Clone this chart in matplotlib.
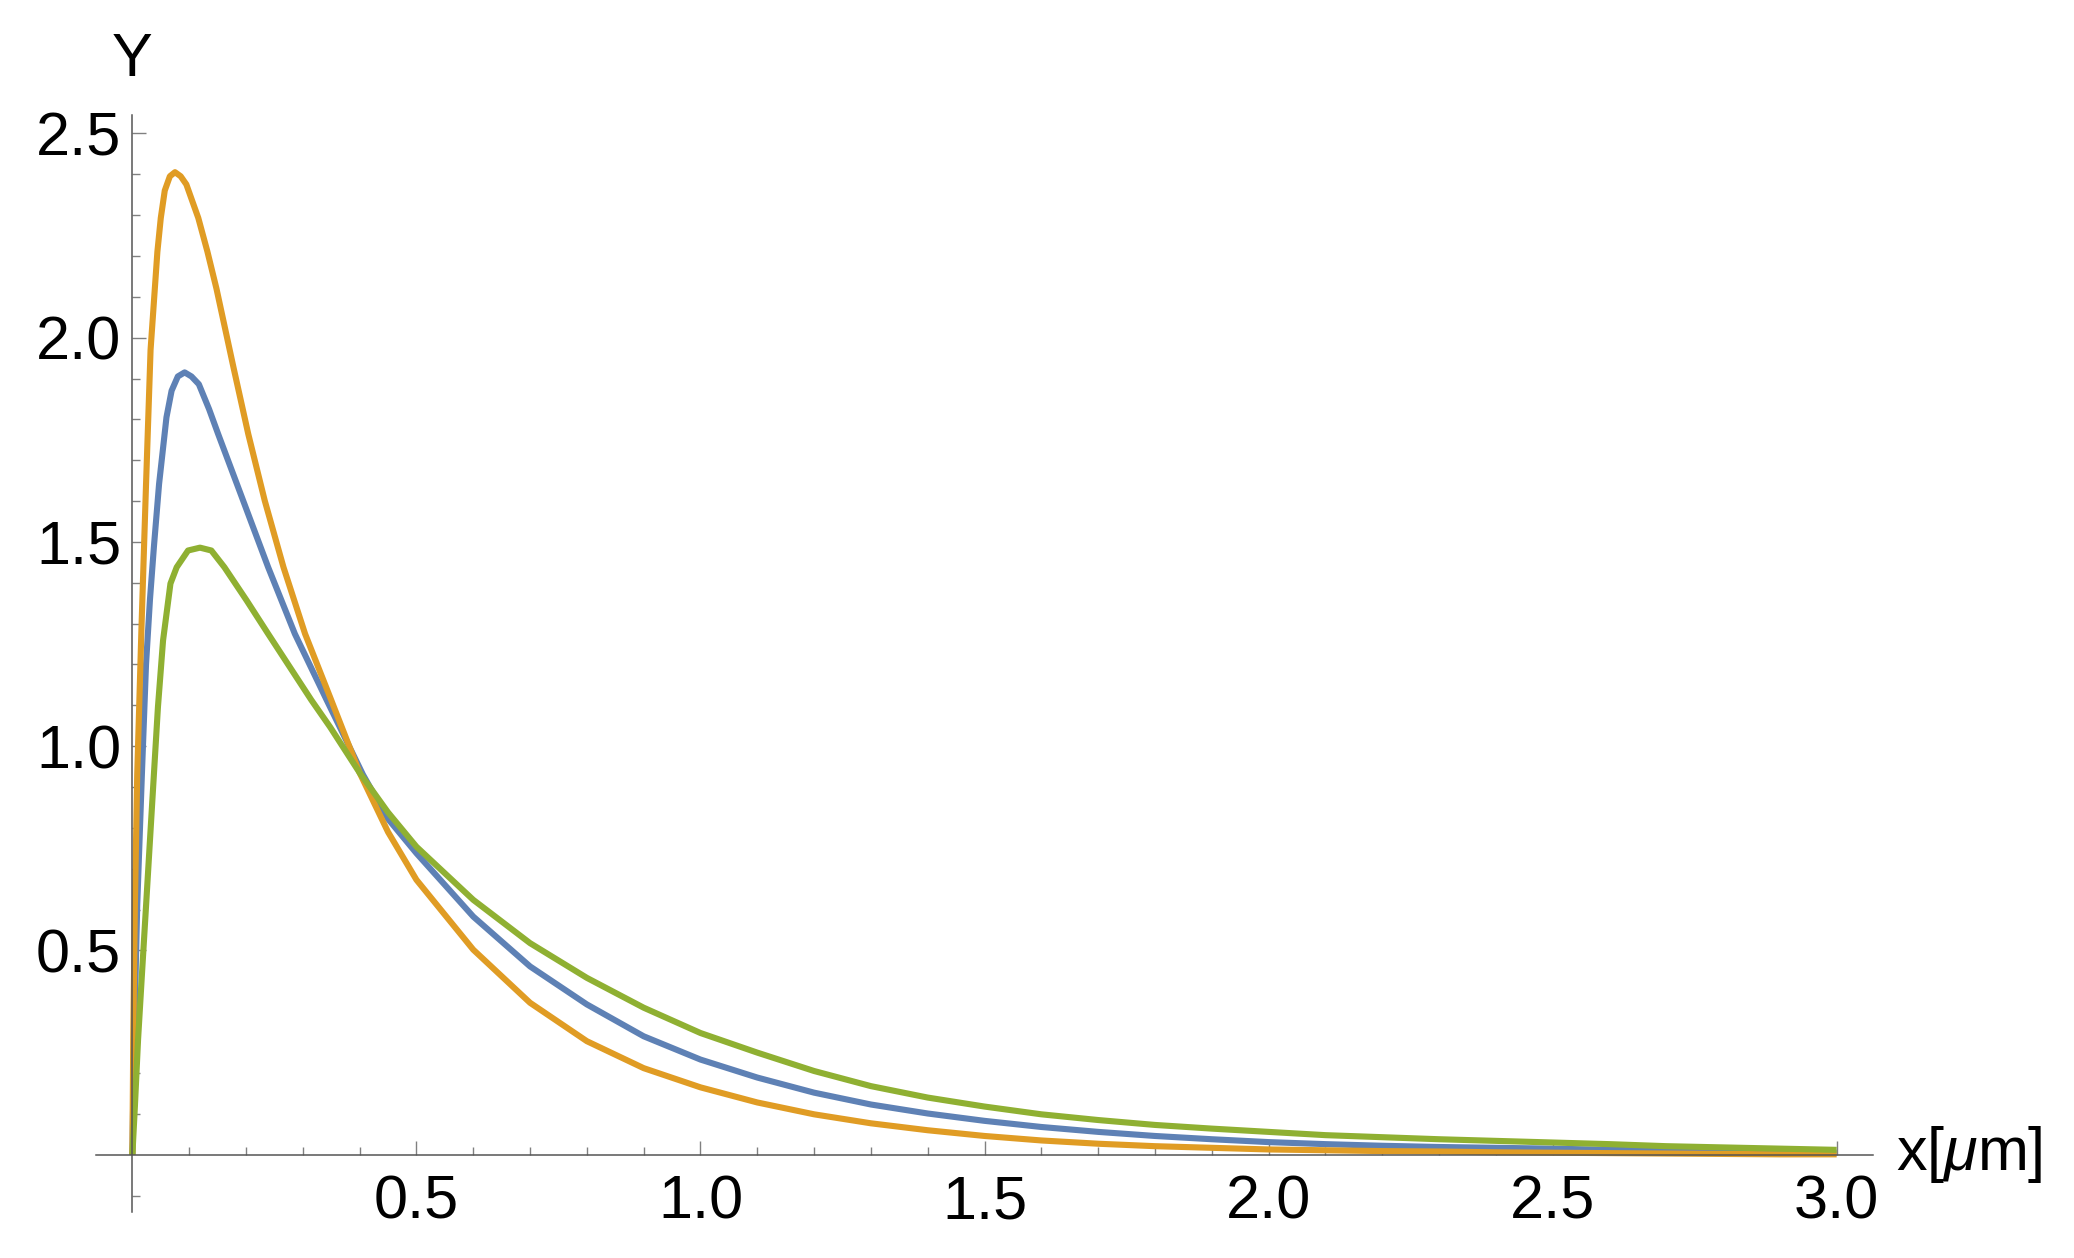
import numpy as np
import matplotlib.pyplot as plt
from matplotlib.ticker import FixedLocator, FormatStrFormatter
from matplotlib.transforms import blended_transform_factory

plt.rcParams['font.family'] = ['Liberation Sans', 'DejaVu Sans']
plt.rcParams['mathtext.fontset'] = 'custom'
plt.rcParams['mathtext.rm'] = 'Liberation Sans'
plt.rcParams['mathtext.it'] = 'Liberation Sans:italic'

# values
tail_x = [1.1, 1.2, 1.3, 1.4, 1.5, 1.6, 1.7, 1.8, 1.9, 2.0,
          2.1, 2.2, 2.3, 2.4, 2.5, 2.6, 2.7, 2.8, 2.9, 3.0]

x_blue = [0, 0.003, 0.0085, 0.0167, 0.024, 0.031, 0.038, 0.047, 0.060, 0.069,
          0.080, 0.092, 0.104, 0.117, 0.135, 0.151, 0.195, 0.239, 0.286, 0.342,
          0.406, 0.45, 0.5, 0.6, 0.7, 0.8, 0.9, 1.0] + tail_x
y_blue = [0, 0.28, 0.61, 0.93, 1.20, 1.36, 1.49, 1.642, 1.805, 1.87,
          1.905, 1.915, 1.905, 1.886, 1.825, 1.764, 1.601, 1.438, 1.275, 1.113,
          0.93, 0.822, 0.738, 0.583, 0.461, 0.368, 0.290, 0.233,
          0.189, 0.152, 0.123, 0.101, 0.083, 0.068, 0.056, 0.046, 0.038, 0.031,
          0.026, 0.022, 0.019, 0.017, 0.015, 0.012, 0.010, 0.008, 0.006, 0.005]

x_orange = [0, 0.0015, 0.0044, 0.0085, 0.016, 0.024, 0.032, 0.044, 0.050, 0.057,
            0.066, 0.075, 0.085, 0.095, 0.116, 0.132, 0.148, 0.178, 0.204, 0.233,
            0.266, 0.304, 0.348, 0.40, 0.45, 0.5, 0.6, 0.7, 0.8, 0.9, 1.0] + tail_x
y_orange = [0, 0.28, 0.61, 0.93, 1.29, 1.64, 1.97, 2.21, 2.293, 2.36,
            2.395, 2.405, 2.395, 2.375, 2.293, 2.211, 2.12, 1.927, 1.764, 1.601,
            1.438, 1.275, 1.12, 0.935, 0.79, 0.673, 0.502, 0.372, 0.278, 0.212, 0.165,
            0.128, 0.099, 0.077, 0.060, 0.046, 0.035, 0.027, 0.021, 0.017, 0.013,
            0.011, 0.009, 0.008, 0.006, 0.005, 0.004, 0.003, 0.002, 0.001, 0.001]

x_green = [0, 0.0044, 0.010, 0.017, 0.024, 0.031, 0.038, 0.045, 0.054, 0.067,
           0.078, 0.098, 0.119, 0.139, 0.162, 0.201, 0.239, 0.277, 0.315, 0.348,
           0.40, 0.45, 0.5, 0.6, 0.7, 0.8, 0.9, 1.0] + tail_x
y_green = [0, 0.118, 0.282, 0.446, 0.608, 0.771, 0.934, 1.096, 1.259, 1.398,
           1.438, 1.479, 1.486, 1.479, 1.438, 1.357, 1.275, 1.194, 1.113, 1.047,
           0.935, 0.838, 0.754, 0.624, 0.518, 0.433, 0.360, 0.298,
           0.250, 0.205, 0.168, 0.140, 0.118, 0.099, 0.085, 0.073, 0.064, 0.056,
           0.048, 0.043, 0.038, 0.034, 0.030, 0.026, 0.021, 0.018, 0.015, 0.012]

x_major = [0.5, 1.0, 1.5, 2.0, 2.5, 3.0]
y_major = [0.5, 1.0, 1.5, 2.0, 2.5]

fig = plt.figure(figsize=(20.74, 12.58), dpi=100)
ax = fig.add_axes([0.0463, 0.0366, 0.8568, 0.872])

for xs, ys, c in [(x_blue, y_blue, '#5E81B5'),
                  (x_orange, y_orange, '#E09C24'),
                  (x_green, y_green, '#8FB032')]:
    ax.plot(xs, ys, color=c, lw=4.4, solid_capstyle='butt', solid_joinstyle='round')

ax.set_xlim(-0.064, 3.064)
ax.set_ylim(-0.14, 2.545)

for s in ['top', 'right']:
    ax.spines[s].set_visible(False)
ax.spines['left'].set_position(('data', 0))
ax.spines['bottom'].set_position(('data', 0))
for s in ['left', 'bottom']:
    ax.spines[s].set_color('#555555')
    ax.spines[s].set_linewidth(1.1)

x_minor = [i / 10 for i in range(1, 31) if i % 5 != 0]
y_minor = [-0.1] + [i / 10 for i in range(1, 25) if i % 5 != 0]
ax.xaxis.set_major_locator(FixedLocator(x_major))
ax.xaxis.set_minor_locator(FixedLocator(x_minor))
ax.yaxis.set_major_locator(FixedLocator(y_major))
ax.yaxis.set_minor_locator(FixedLocator(y_minor))
ax.xaxis.set_major_formatter(FormatStrFormatter('%.1f'))
ax.yaxis.set_major_formatter(FormatStrFormatter('%.1f'))

ax.tick_params(which='both', direction='in', color='#808080', width=1.0, labelsize=44)
ax.tick_params(which='major', length=10)
ax.tick_params(which='minor', length=5.5)
ax.tick_params(axis='x', which='major', pad=14)
ax.tick_params(axis='y', which='major', pad=8)

ax.set_xlabel(r'x[$\mu$m]', fontsize=44, ha='left', va='center')
ax.xaxis.set_label_coords(3.105, 0.0, transform=ax.transData)
ax.set_ylabel('Y', fontsize=44, rotation=0, ha='center', va='baseline')
ax.yaxis.set_label_coords(0.0, 1 - 76 / 1258,
                          transform=blended_transform_factory(ax.transData, fig.transFigure))

fig.savefig('out.png', dpi=100)
